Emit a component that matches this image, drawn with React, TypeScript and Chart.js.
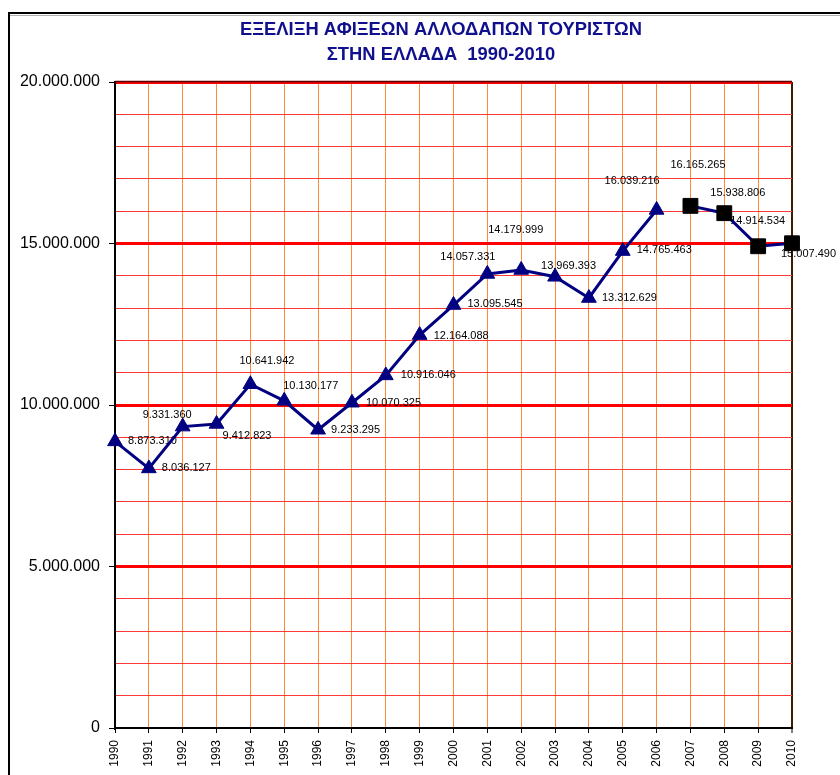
import React, { useEffect, useRef } from "react";
import { Chart, registerables } from "chart.js";

Chart.register(...registerables);

const years = [
  "1990", "1991", "1992", "1993", "1994", "1995", "1996", "1997", "1998", "1999",
  "2000", "2001", "2002", "2003", "2004", "2005", "2006", "2007", "2008", "2009", "2010",
];

const arrivalsTo2006 = [
  8873310, 8036127, 9331360, 9412823, 10641942, 10130177, 9233295, 10070325, 10916046,
  12164088, 13095545, 14057331, 14179999, 13969393, 13312629, 14765463, 16039216,
  null, null, null, null,
];

const arrivalsFrom2007 = [
  null, null, null, null, null, null, null, null, null, null, null, null, null, null,
  null, null, null, 16165265, 15938806, 14914534, 15007490,
];

const yTickValues = [0, 5000000, 10000000, 15000000, 20000000];

const titleLines = ["ΕΞΕΛΙΞΗ ΑΦΙΞΕΩΝ ΑΛΛΟΔΑΠΩΝ ΤΟΥΡΙΣΤΩΝ", "ΣΤΗΝ ΕΛΛΑΔΑ  1990-2010"];

// label placement (offset of the label's left/middle from its point), style only
const labelOffsets: [number, number][] = [
  [13, 0], [13, 0], [-40, -12], [6, 12], [-11, -23], [-1, -15], [13, 0], [14, 0],
  [15, 0], [14, 1], [14, -1], [-47, -17], [-33, -40], [-14, -11], [13, 0], [14, -1],
  [-52, -29], [-20, -41], [-14, -20], [-28, -25], [-11, 11],
];

const fmt = (v: number) => String(Math.round(v)).replace(/\B(?=(\d{3})+(?!\d))/g, ".");

const NAVY = "#000080";

const frameAndTitle = {
  id: "frameAndTitle",
  beforeDraw(chart: any) {
    const ctx = chart.ctx;
    ctx.save();
    ctx.fillStyle = "#ffffff";
    ctx.fillRect(0, 0, chart.width, chart.height);
    // outer frame
    ctx.strokeStyle = "#b0b0b0";
    ctx.lineWidth = 1;
    ctx.beginPath();
    ctx.moveTo(10, 15.5);
    ctx.lineTo(chart.width, 15.5);
    ctx.stroke();
    ctx.strokeStyle = "#000000";
    ctx.lineWidth = 2;
    ctx.beginPath();
    ctx.moveTo(9, chart.height);
    ctx.lineTo(9, 13);
    ctx.lineTo(chart.width, 13);
    ctx.stroke();
    // title (condensed bold)
    ctx.fillStyle = "#10108F";
    ctx.font = 'bold 18px "Liberation Sans", Arial, sans-serif';
    ctx.textAlign = "center";
    ctx.textBaseline = "middle";
    const w0 = ctx.measureText(titleLines[0]).width;
    const sx = 402 / w0;
    const ys = [30, 55];
    titleLines.forEach((t, i) => {
      ctx.save();
      ctx.translate(441, ys[i]);
      ctx.scale(sx, 1);
      ctx.fillText(t, 0, 0);
      ctx.restore();
    });
    ctx.restore();
  },
  beforeDatasetsDraw(chart: any) {
    const ctx = chart.ctx;
    const area = chart.chartArea;
    ctx.save();
    // dark top edge
    ctx.strokeStyle = "#5a0000";
    ctx.lineWidth = 1.5;
    ctx.beginPath();
    ctx.moveTo(area.left, area.top - 0.5);
    ctx.lineTo(area.right, area.top - 0.5);
    ctx.stroke();
    // data labels
    ctx.fillStyle = "#000000";
    ctx.font = '11px "Liberation Sans", Arial, sans-serif';
    ctx.textAlign = "left";
    ctx.textBaseline = "middle";
    chart.data.datasets.forEach((ds: any, di: number) => {
      const meta = chart.getDatasetMeta(di);
      ds.data.forEach((v: number | null, j: number) => {
        if (v == null) return;
        const el = meta.data[j];
        const [dx, dy] = labelOffsets[j];
        ctx.fillText(fmt(v), el.x + dx, el.y + dy);
      });
    });
    ctx.restore();
  },
};

export default function App() {
  const ref = useRef<HTMLCanvasElement | null>(null);
  useEffect(() => {
    if (!ref.current) return;
    const chart = new Chart(ref.current, {
      type: "line",
      data: {
        labels: years,
        datasets: [
          {
            data: arrivalsTo2006,
            borderColor: NAVY,
            borderWidth: 3,
            backgroundColor: NAVY,
            pointStyle: "triangle",
            pointRadius: 8.5,
            pointBackgroundColor: NAVY,
            pointBorderColor: NAVY,
            pointBorderWidth: 1,
            spanGaps: false,
            tension: 0,
            clip: false,
          } as any,
          {
            data: arrivalsFrom2007,
            borderColor: NAVY,
            borderWidth: 3,
            backgroundColor: "#000000",
            pointStyle: "rect",
            pointRadius: 10.5,
            pointBackgroundColor: "#000000",
            pointBorderColor: "#000000",
            pointBorderWidth: 1,
            spanGaps: false,
            tension: 0,
            clip: false,
          } as any,
        ],
      },
      options: {
        animation: false,
        responsive: false,
        layout: { padding: { top: 82, right: 48, left: 0, bottom: 0 } },
        plugins: {
          legend: { display: false },
          tooltip: { enabled: false },
          title: { display: false },
        },
        scales: {
          x: {
            offset: false,
            afterFit: (s: any) => {
              s.height = 47;
            },
            border: { display: true, color: "#000000", width: 2 },
            grid: {
              display: true,
              drawOnChartArea: true,
              drawTicks: true,
              tickLength: 5,
              tickColor: "#000000",
              tickWidth: 1,
              color: (c: any) => (c.index === years.length - 1 ? "#3B1E00" : "#FF8A3A"),
              lineWidth: (c: any) => (c.index === years.length - 1 ? 2 : 1),
            },
            ticks: {
              autoSkip: false,
              minRotation: 90,
              maxRotation: 90,
              padding: 7,
              color: "#000000",
              font: { family: '"Liberation Sans", Arial, sans-serif', size: 12 },
            },
          },
          y: {
            min: 0,
            max: 20000000,
            afterFit: (s: any) => {
              s.width = 115;
            },
            border: { display: true, color: "#000000", width: 2 },
            grid: {
              drawTicks: true,
              tickLength: 6,
              tickWidth: 1,
              tickColor: (c: any) =>
                yTickValues.includes(c.tick?.value) ? "#000000" : "rgba(0,0,0,0)",
              color: (c: any) => {
                const v = c.tick?.value;
                if (v === 0) return "rgba(0,0,0,0)";
                return yTickValues.includes(v) ? "#FF0000" : "#FF3838";
              },
              lineWidth: (c: any) => (yTickValues.includes(c.tick?.value) ? 3 : 1),
            },
            ticks: {
              stepSize: 1000000,
              autoSkip: false,
              padding: 9,
              color: "#000000",
              font: { family: '"Liberation Sans", Arial, sans-serif', size: 16 },
              callback: (v: any) => (yTickValues.includes(Number(v)) ? fmt(Number(v)) : ""),
            },
          },
        },
      },
      plugins: [frameAndTitle],
    });
    return () => chart.destroy();
  }, []);
  return (
    <div style={{ position: "absolute", left: 0, top: 0, width: 840, height: 775 }}>
      <canvas ref={ref} width={840} height={775} style={{ display: "block" }} />
    </div>
  );
}
